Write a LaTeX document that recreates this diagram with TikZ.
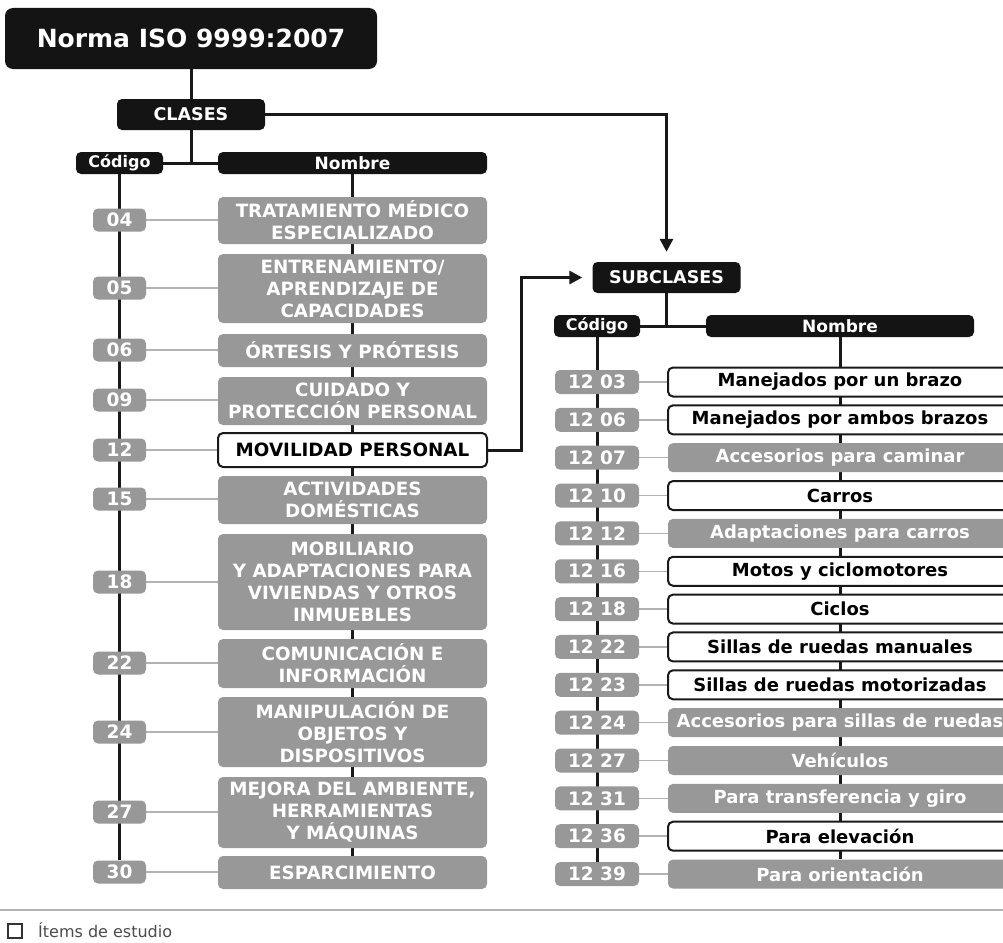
\documentclass[tikz,border=0pt]{standalone}
\usepackage{fontspec}
\setmainfont{DejaVu Sans}
\usepackage{tikz}
\usetikzlibrary{arrows.meta,backgrounds}

\definecolor{boxgray}{RGB}{152,152,152}
\definecolor{tiegray}{RGB}{178,178,178}
\newcommand{\pxfont}[2]{\fontsize{#1}{#2}\selectfont}

\tikzset{
  darkbox/.style={fill=black!92, text=white, rounded corners=5pt, inner sep=0pt,
    font=\pxfont{17.5}{21}\bfseries},
  codebox/.style={fill=boxgray, text=white, rounded corners=5pt, inner sep=0pt,
    minimum height=23pt, font=\pxfont{18.5}{20}\bfseries},
  namebox/.style={fill=boxgray, text=white, rounded corners=5pt, inner sep=0pt,
    align=center, font=\pxfont{18.3}{22}\bfseries},
  studybox/.style={namebox, fill=white, draw=black!90, line width=2pt, text=black},
  trunk/.style={line width=3pt, black!90},
  tie/.style={line width=1.5pt, tiegray},
}

\begin{document}
\begin{tikzpicture}[x=1pt, y=-1pt,
    leftname/.style={minimum width=269pt},
    rightname/.style={minimum width=344pt, minimum height=29pt, font=\pxfont{18}{21}\bfseries}]
    \useasboundingbox (0,0) rectangle (1003,942);

    \node[darkbox, minimum width=372pt, minimum height=61pt, rounded corners=8pt,
      font=\pxfont{25}{28}\bfseries] (norma) at (191,38.5) {Norma ISO 9999:2007};
    \node[darkbox, minimum width=148pt, minimum height=31pt] (clases) at (191,114.5) {CLASES};
    \node[darkbox, minimum width=87pt, minimum height=22pt, font=\pxfont{16}{19}\bfseries] (codigo) at (119.5,163) {Código};
    \node[darkbox, minimum width=269pt, minimum height=22pt, font=\pxfont{17}{19}\bfseries] (nombre) at (352.5,163) {Nombre};

    % clases
    \node[codebox, minimum width=53pt] (c04) at (119.5,220) {04};
    \node[codebox, minimum width=53pt] (c05) at (119.5,288) {05};
    \node[codebox, minimum width=53pt] (c06) at (119.5,350) {06};
    \node[codebox, minimum width=53pt] (c09) at (119.5,400) {09};
    \node[codebox, minimum width=53pt] (c12) at (119.5,450) {12};
    \node[codebox, minimum width=53pt] (c15) at (119.5,499) {15};
    \node[codebox, minimum width=53pt] (c18) at (119.5,582) {18};
    \node[codebox, minimum width=53pt] (c22) at (119.5,663) {22};
    \node[codebox, minimum width=53pt] (c24) at (119.5,732) {24};
    \node[codebox, minimum width=53pt] (c27) at (119.5,812) {27};
    \node[codebox, minimum width=53pt] (c30) at (119.5,872) {30};

    \node[namebox, leftname, minimum height=47pt] (n04) at (352.5,220.5) {TRATAMIENTO MÉDICO\\ESPECIALIZADO};
    \node[namebox, leftname, minimum height=69pt] (n05) at (352.5,288.5) {ENTRENAMIENTO/\\APRENDIZAJE DE\\CAPACIDADES};
    \node[namebox, leftname, minimum height=33pt] (n06) at (352.5,350.5) {ÓRTESIS Y PRÓTESIS};
    \node[namebox, leftname, minimum height=48pt] (n09) at (352.5,401) {CUIDADO Y\\PROTECCIÓN PERSONAL};
    \node[studybox, leftname, minimum height=34pt] (n12) at (352.5,450) {MOVILIDAD PERSONAL};
    \node[namebox, leftname, minimum height=48pt] (n15) at (352.5,500) {ACTIVIDADES\\DOMÉSTICAS};
    \node[namebox, leftname, minimum height=96pt] (n18) at (352.5,582) {MOBILIARIO\\Y ADAPTACIONES PARA\\VIVIENDAS Y OTROS\\INMUEBLES};
    \node[namebox, leftname, minimum height=49pt] (n22) at (352.5,663.5) {COMUNICACIÓN E\\INFORMACIÓN};
    \node[namebox, leftname, minimum height=70pt] (n24) at (352.5,732) {MANIPULACIÓN DE\\OBJETOS Y\\DISPOSITIVOS};
    \node[namebox, leftname, minimum height=71pt] (n27) at (352.5,812.5) {MEJORA DEL AMBIENTE,\\HERRAMIENTAS\\Y MÁQUINAS};
    \node[namebox, leftname, minimum height=33pt] (n30) at (352.5,872.5) {ESPARCIMIENTO};

    % subclases
    \node[darkbox, minimum width=148pt, minimum height=31pt] (subclases) at (666.5,277.5) {SUBCLASES};
    \node[darkbox, minimum width=86pt, minimum height=22pt, font=\pxfont{16}{19}\bfseries] (subcodigo) at (597,326) {Código};
    \node[darkbox, minimum width=268pt, minimum height=22pt, font=\pxfont{17}{19}\bfseries] (subnombre) at (840,326) {Nombre};

    \foreach \k/\txt/\kind [count=\i from 0] in {
        03/Manejados por un brazo/studybox,
        06/Manejados por ambos brazos/studybox,
        07/Accesorios para caminar/namebox,
        10/Carros/studybox,
        12/Adaptaciones para carros/namebox,
        16/Motos y ciclomotores/studybox,
        18/Ciclos/studybox,
        22/Sillas de ruedas manuales/studybox,
        23/Sillas de ruedas motorizadas/studybox,
        24/Accesorios para sillas de ruedas/namebox,
        27/Vehículos/namebox,
        31/Para transferencia y giro/namebox,
        36/Para elevación/studybox,
        39/Para orientación/namebox}
    {
      \node[codebox, minimum width=84pt, minimum height=24pt] (sc\k) at (597,382+37.85*\i) {12 \k};
      \node[\kind, rightname] (sn\k) at (840,382+37.85*\i) {\txt};
    }

    % legend
    \node[draw=black!80, line width=1.8pt, minimum size=14pt, inner sep=0pt] (legbox) at (15,931) {};
    \node[anchor=west, text=black!70, font=\pxfont{16}{19}, inner sep=0pt] (legtext) at (38,930) {Ítems de estudio};

    \begin{scope}[on background layer]
      \fill[white] (0,0) rectangle (1003,942);
      \draw[line width=2pt, black!30] (0,910) -- (1003,910);
      \draw[trunk] (norma) -- (clases);
      \draw[trunk] (clases.south) -- (clases.south |- codigo.east);
      \draw[trunk] (codigo) -- (nombre);
      \draw[trunk] (codigo) -- (c30);
      \draw[trunk] (nombre) -- (n30);
      \foreach \k in {04,05,06,09,12,15,18,22,24,27,30}
        \draw[tie] (c\k.east) -- (c\k.east -| n\k.west);
      \draw[trunk] (subclases) -- (subclases.south |- subcodigo.east);
      \draw[trunk] (subcodigo) -- (subnombre);
      \draw[trunk] (subcodigo) -- (sc39);
      \draw[trunk] (subnombre) -- (sn39);
      \foreach \k in {03,06,07,10,12,16,18,22,23,24,27,31,36,39}
        \draw[tie] (sc\k) -- (sn\k);
    \end{scope}

    \draw[trunk, -{Triangle[length=13pt,width=13pt]}, shorten >=10pt]
      (clases.east) -| (subclases.north);
    \draw[trunk, -{Triangle[length=13pt,width=13pt]}, shorten >=10pt]
      (n12.east) -- ++(33,0) |- (subclases.west);
\end{tikzpicture}
\end{document}
